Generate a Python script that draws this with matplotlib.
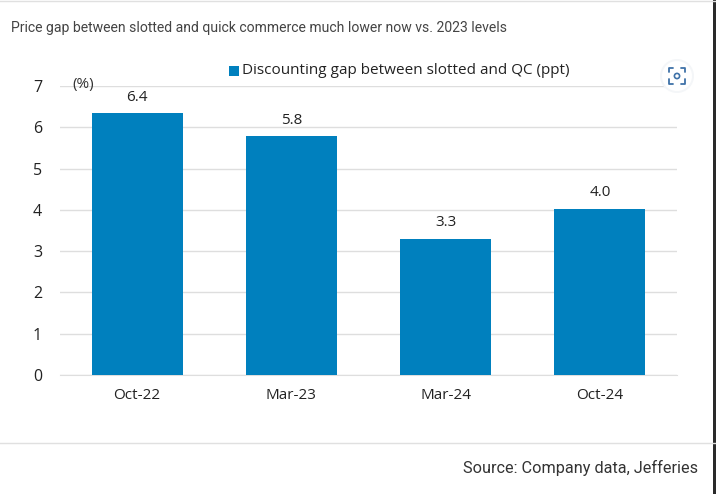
import matplotlib
matplotlib.use('Agg')
import matplotlib.pyplot as plt
from matplotlib.patches import Rectangle, Circle

W, H = 716, 494

categories = ['Oct-22', 'Mar-23', 'Mar-24', 'Oct-24']
gap_values = [6.35, 5.78, 3.3, 4.03]
gap_labels = ['6.4', '5.8', '3.3', '4.0']
y_ticks = [0, 1, 2, 3, 4, 5, 6, 7]

BLUE = '#0080BE'
TEXT = '#222222'
GRID = '#dedede'
plt.rcParams['font.family'] = ['Open Sans', 'DejaVu Sans']


def px(x, y):
    # pixel position in the reference -> figure fraction
    return x / W, 1 - y / H


fig = plt.figure(figsize=(W / 100, H / 100), dpi=100)
# plot area in pixels: x 60..677, y 86..375
ax = fig.add_axes([60 / W, 1 - 375 / H, (677 - 60) / W, (375 - 86) / H])

ax.bar(range(4), gap_values, width=0.59, color=BLUE, zorder=3)
ax.set_xlim(-0.5, 3.5)
ax.set_ylim(0, 7)
ax.set_yticks(y_ticks)
ax.set_xticks(range(4))
ax.set_xticklabels(categories, fontsize=11, color=TEXT)
ax.tick_params(axis='x', length=0, pad=9)
ax.tick_params(axis='y', length=0, pad=13, labelsize=11.5, labelcolor=TEXT)
ax.grid(axis='y', color=GRID, lw=1, zorder=0)
for s in ['top', 'right', 'left']:
    ax.spines[s].set_visible(False)
ax.spines['bottom'].set_color(GRID)

for i in range(4):
    ax.annotate(gap_labels[i], (i, gap_values[i]), xytext=(0, 6), textcoords='offset points',
                ha='center', va='bottom', fontsize=11, color=TEXT, zorder=4)

# (%) sits right on the 7 gridline, line runs through it
x, y = px(83, 84)
fig.text(x, y, '(%)', ha='center', va='center', fontsize=11, color='#333333', zorder=5)

# legend
x, y = px(229, 76)
fig.add_artist(Rectangle((x, y), 10 / W, 10 / H, transform=fig.transFigure, fc=BLUE, ec='none'))
x, y = px(242, 71)
fig.text(x, y, 'Discounting gap between slotted and QC (ppt)', ha='left', va='center',
         fontsize=11, color=TEXT)

x, y = px(11, 28)
fig.text(x, y, 'Price gap between slotted and quick commerce much lower now vs. 2023 levels',
         ha='left', va='center', fontsize=10.1, color='#444444', family=['Roboto', 'DejaVu Sans'])
x, y = px(698, 468)
fig.text(x, y, 'Source: Company data, Jefferies', ha='right', va='center',
         fontsize=11.7, color='#333333', family=['Roboto', 'DejaVu Sans'])

# page rules and the dark screenshot edge
for yy in [1, 443]:
    fig.add_artist(plt.Line2D([0, 1], [1 - yy / H, 1 - yy / H], color='#e0e0e0', lw=1))
fig.add_artist(Rectangle(px(713, H), 3 / W, 1, transform=fig.transFigure, fc='#2a2a2a', ec='none'))

# scan icon, top right: white disc, four corner brackets, small ring
overlay = fig.add_axes([0, 0, 1, 1], facecolor='none')
overlay.set_xlim(0, W)
overlay.set_ylim(H, 0)
overlay.axis('off')
cx, cy = 677, 76
overlay.add_patch(Circle((cx, cy), 17, fc='#f4f6f8', ec='none'))
overlay.add_patch(Circle((cx, cy), 15, fc='white', ec='none'))
for sx, sy in [(-1, -1), (1, -1), (-1, 1), (1, 1)]:
    overlay.plot([cx + sx * 4, cx + sx * 8, cx + sx * 8], [cy + sy * 8, cy + sy * 8, cy + sy * 3.5],
                 color='#3f72a8', lw=1.3, solid_capstyle='round')
overlay.add_patch(Circle((cx, cy), 2.6, fc='none', ec='#3f72a8', lw=1.2))

fig.savefig('out.png', dpi=100)
